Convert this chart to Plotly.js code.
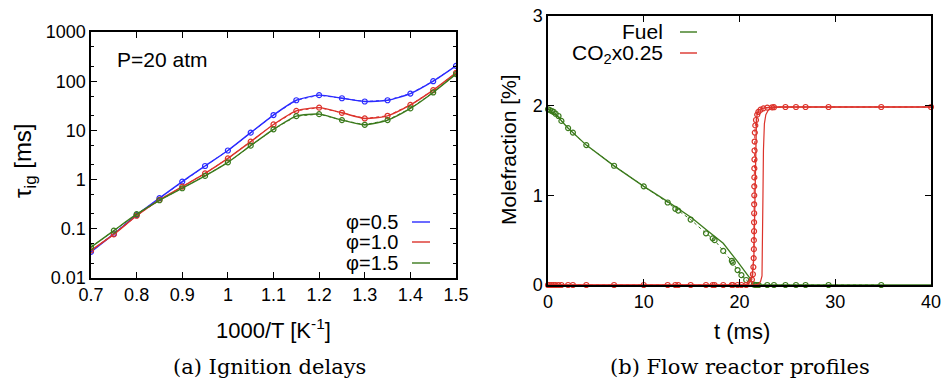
<!DOCTYPE html>
<html>
<head>
<meta charset="utf-8">
<script src="https://cdn.plot.ly/plotly-3.0.1.min.js"></script>
<style>html,body{margin:0;padding:0;background:#fff;}#chart{width:942px;height:380px;}</style>
</head>
<body>
<div id="chart"></div>
<script>
// ---------- (a) Ignition delays ----------
const invT = [0.7,0.75,0.8,0.85,0.9,0.95,1.0,1.05,1.1,1.15,1.2,1.25,1.3,1.35,1.4,1.45,1.5];
const tauPhi05 = [0.034,0.079,0.19,0.42,0.91,1.89,3.9,9.0,20.5,41,52,45,38.7,41,56,100,205];
const tauPhi10 = [0.0364,0.077,0.184,0.387,0.72,1.34,2.7,5.9,13.2,25,29,22.8,17.5,19.8,33,66,148];
const tauPhi15 = [0.0425,0.092,0.198,0.38,0.667,1.19,2.24,4.9,10.5,19.5,21.4,16.2,13,16.2,28,59,139];
const phiLabels = ['φ=0.5','φ=1.0','φ=1.5'];
const xTicksA = [0.7,0.8,0.9,1.0,1.1,1.2,1.3,1.4,1.5];
const xTickTextA = ['0.7','0.8','0.9','1','1.1','1.2','1.3','1.4','1.5'];
const yTicksA = [0.01,0.1,1,10,100,1000];
const yTickTextA = ['0.01','0.1','1','10','100','1000'];

// ---------- (b) Flow reactor profiles ----------
const fuelSimT = [0,1,2,4,7,10,12.5,15,16.5,18.3,19.8,20.7,21.1,21.45,22,25,30,35,40];
const fuelSimY = [1.96,1.88,1.76,1.56,1.32,1.10,0.93,0.75,0.62,0.465,0.26,0.137,0.075,0.0,0,0,0,0,0];
const fuelPtsT = [0,0.2,0.4,0.6,0.8,1.1,1.4,2.1,2.6,4.0,6.9,10.0,12.5,13.3,13.6,14.9,16.5,17.2,17.4,18.3,19.2,19.3,19.8,20.2,20.7,21.1,21.5,21.7,21.8,22.0,22.9,23.6,24.8,25.9,26.9,29.3,34.8];
const fuelPtsY = [1.96,1.95,1.94,1.93,1.91,1.885,1.83,1.75,1.70,1.56,1.33,1.10,0.92,0.85,0.83,0.73,0.576,0.52,0.50,0.38,0.27,0.25,0.167,0.11,0.056,0.02,0.005,0,0,0,0,0,0,0,0,0,0];
const co2PtsT = [0,0.2,0.4,0.6,0.8,1.1,1.4,2.1,2.6,4.0,6.9,10.0,12.5,13.3,13.6,14.9,16.5,17.2,17.4,18.3,19.2,19.3,19.8,20.2,20.7,21.1,21.3,21.4,21.45,21.48,21.5,21.5,21.52,21.52,21.53,21.53,21.54,21.54,21.55,21.55,21.56,21.57,21.58,21.6,21.65,21.72,21.85,21.97,22.2,22.5,22.9,23.4,23.6,24.8,25.9,26.9,29.3,34.8,40];
const co2PtsY = [0,0,0,0,0,0,0,0,0,0,0,0,0,0,0,0,0,0,0,0,0,0,0,0,0,0.02,0.06,0.12,0.2,0.3,0.4,0.5,0.6,0.7,0.8,0.9,1.0,1.1,1.2,1.3,1.4,1.5,1.6,1.7,1.78,1.84,1.9,1.93,1.955,1.97,1.978,1.982,1.983,1.985,1.985,1.985,1.985,1.985,1.985];
const co2SimAT = [0,20.5,21.0,21.3,21.5,21.6,21.65,21.7,21.77,21.87,22.0,22.3,22.8,23.6,25,40];
const co2SimAY = [0,0,0.02,0.08,0.3,1.0,1.5,1.72,1.85,1.92,1.95,1.968,1.978,1.985,1.985,1.985];
const co2SimBT = [0,21.5,22.0,22.2,22.35,22.42,22.45,22.5,22.6,22.75,23.0,23.5,24.2,40];
const co2SimBY = [0,0,0.01,0.04,0.1,0.5,1.0,1.5,1.8,1.9,1.95,1.975,1.985,1.985];
const seriesB = ['Fuel','CO<sub>2</sub>x0.25'];
const xTicksB = [0,10,20,30,40];
const yTicksB = [0,1,2,3];

const BLUE = '#2b2bff', RED = '#dc332b', GREEN = '#3b7a1c';
const SANS = '"Liberation Sans", Arial, sans-serif';
const px = x => x / 942;
const py = y => 1 - y / 380;

const traces = [];
[[tauPhi05, BLUE], [tauPhi10, RED], [tauPhi15, GREEN]].forEach(([ys, c]) => {
  traces.push({x: invT, y: ys, xaxis: 'x', yaxis: 'y', mode: 'lines', type: 'scatter',
    line: {color: c, width: 1.4, shape: 'spline', smoothing: 0.6}, showlegend: false, hoverinfo: 'skip'});
  traces.push({x: invT, y: ys, xaxis: 'x', yaxis: 'y', mode: 'lines+markers', type: 'scatter',
    line: {color: c, width: 1, dash: 'dot'},
    marker: {symbol: 'circle-open', size: 5, color: c, line: {width: 1.2, color: c}},
    showlegend: false, hoverinfo: 'skip'});
});
traces.push({x: fuelSimT, y: fuelSimY, xaxis: 'x2', yaxis: 'y2', mode: 'lines', type: 'scatter',
  line: {color: GREEN, width: 1.3}, showlegend: false, cliponaxis: false});
traces.push({x: fuelPtsT, y: fuelPtsY, xaxis: 'x2', yaxis: 'y2', mode: 'lines+markers', type: 'scatter',
  line: {color: GREEN, width: 1, dash: 'dot'},
  marker: {symbol: 'circle-open', size: 5, color: GREEN, line: {width: 1.2, color: GREEN}},
  showlegend: false, cliponaxis: false});
traces.push({x: co2SimAT, y: co2SimAY, xaxis: 'x2', yaxis: 'y2', mode: 'lines', type: 'scatter',
  line: {color: RED, width: 1.3}, showlegend: false, cliponaxis: false});
traces.push({x: co2SimBT, y: co2SimBY, xaxis: 'x2', yaxis: 'y2', mode: 'lines', type: 'scatter',
  line: {color: RED, width: 1.2}, showlegend: false, cliponaxis: false});
traces.push({x: co2PtsT, y: co2PtsY, xaxis: 'x2', yaxis: 'y2', mode: 'lines+markers', type: 'scatter',
  line: {color: RED, width: 1, dash: 'dot'},
  marker: {symbol: 'circle-open', size: 5, color: RED, line: {width: 1.2, color: RED}},
  showlegend: false, cliponaxis: false});

const axisCommon = {showline: true, linecolor: '#000', linewidth: 1.6, mirror: 'ticks',
  ticks: 'inside', ticklen: 6, tickwidth: 1.2, tickcolor: '#000', showgrid: false, zeroline: false,
  tickfont: {family: SANS, size: 18, color: '#000'}, fixedrange: true};

const annotations = [
  {text: 'P=20 atm', x: px(115), y: py(59), xanchor: 'left', yanchor: 'middle'},
  {text: 'τ<sub>ig</sub> [ms]', x: px(24), y: py(161), textangle: -90, size: 24},
  {text: '1000/T [K<sup>-1</sup>]', x: px(273), y: py(329), size: 22},
  {text: 'Molefraction [%]', x: px(508), y: py(150), textangle: -90, size: 21},
  {text: 't (ms)', x: px(742), y: py(331), size: 22},
  {text: seriesB[0], x: px(665), y: py(31), xanchor: 'right', size: 21},
  {text: seriesB[1], x: px(665), y: py(54), xanchor: 'right', size: 21},
  {text: phiLabels[0], x: px(400), y: py(222), xanchor: 'right', size: 20},
  {text: phiLabels[1], x: px(400), y: py(242), xanchor: 'right', size: 20},
  {text: phiLabels[2], x: px(400), y: py(263), xanchor: 'right', size: 20},
  {text: '(a) Ignition delays', x: px(269), y: py(367), serif: true},
  {text: '(b) Flow reactor profiles', x: px(740), y: py(367), serif: true}
].map(a => ({
  text: a.text, x: a.x, y: a.y, xref: 'paper', yref: 'paper', showarrow: false,
  xanchor: a.xanchor || 'center', yanchor: a.yanchor || 'middle', textangle: a.textangle || 0,
  font: a.serif ? {family: 'DejaVu Serif, serif', size: 21, color: '#000'}
               : {family: SANS, size: a.size || 21, color: '#000'}
}));

const legendLines = [[412, 430, 222, BLUE], [412, 430, 242, RED], [412, 430, 263, GREEN],
                     [680, 697, 32, GREEN], [680, 697, 53, RED]];
const shapes = legendLines.map(([x0, x1, y, c]) => ({type: 'line', xref: 'paper', yref: 'paper',
  x0: px(x0), x1: px(x1), y0: py(y), y1: py(y), line: {color: c, width: 1.4}}));

const layout = {
  width: 942, height: 380, margin: {l: 0, r: 0, t: 0, b: 0},
  paper_bgcolor: '#fff', plot_bgcolor: '#fff', showlegend: false,
  xaxis: Object.assign({}, axisCommon, {domain: [px(91), px(456)], range: [0.7, 1.5],
    tickmode: 'array', tickvals: xTicksA, ticktext: xTickTextA, anchor: 'y'}),
  yaxis: Object.assign({}, axisCommon, {domain: [py(278), py(32)], type: 'log', range: [-2, 3],
    tickmode: 'array', tickvals: yTicksA, ticktext: yTickTextA, anchor: 'x',
    minor: {tickmode: 'array', tickvals: [0.02,0.05,0.2,0.5,2,5,20,50,200,500], ticks: 'inside', ticklen: 3, tickcolor: '#000', tickwidth: 1}}),
  xaxis2: Object.assign({}, axisCommon, {domain: [px(548), px(931)], range: [0, 40],
    tickmode: 'array', tickvals: xTicksB, anchor: 'y2', tickfont: {family: SANS, size: 18, color: '#000'}}),
  yaxis2: Object.assign({}, axisCommon, {domain: [py(285), py(16)], range: [0, 3],
    tickmode: 'array', tickvals: yTicksB, anchor: 'x2', tickfont: {family: SANS, size: 18, color: '#000'}}),
  annotations: annotations, shapes: shapes
};

Plotly.newPlot('chart', traces, layout, {staticPlot: true, displayModeBar: false});
</script>
</body>
</html>
